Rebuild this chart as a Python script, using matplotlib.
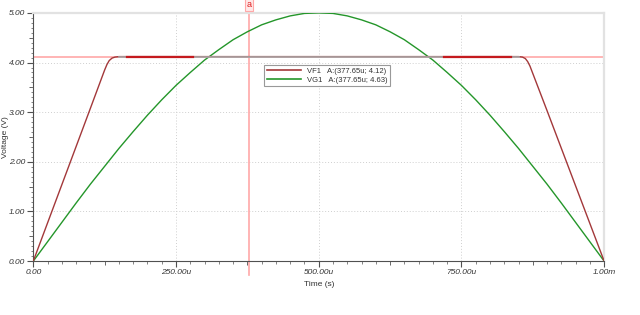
import numpy as np
import matplotlib.pyplot as plt
from matplotlib.lines import Line2D

# time in ms, voltage in V
vf1_t = [0.0, 0.0325, 0.065, 0.0975, 0.125, 0.129, 0.133, 0.138, 0.143, 0.15,
         0.85, 0.857, 0.862, 0.866, 0.87, 0.90, 0.934, 0.967, 1.0]
vf1_v = [0.0, 1.0, 2.0, 3.0, 3.85, 3.96, 4.04, 4.09, 4.11, 4.12,
         4.12, 4.11, 4.08, 4.02, 3.93, 3.03, 2.0, 1.0, 0.0]

vg1_t = [0.0, 0.025, 0.05, 0.075, 0.10, 0.125, 0.15, 0.175, 0.20, 0.225, 0.25,
         0.275, 0.30, 0.325, 0.35, 0.375, 0.40, 0.425, 0.45, 0.475, 0.50,
         0.525, 0.55, 0.575, 0.60, 0.625, 0.65, 0.675, 0.70, 0.725, 0.75,
         0.775, 0.80, 0.825, 0.85, 0.875, 0.90, 0.925, 0.95, 0.975, 1.0]
vg1_v = [0.0, 0.39, 0.78, 1.17, 1.55, 1.91, 2.27, 2.61, 2.94, 3.25, 3.54,
         3.80, 4.05, 4.26, 4.46, 4.62, 4.76, 4.86, 4.94, 4.99, 5.0,
         4.99, 4.94, 4.86, 4.76, 4.62, 4.46, 4.26, 4.05, 3.80, 3.54,
         3.25, 2.94, 2.61, 2.27, 1.91, 1.55, 1.17, 0.78, 0.39, 0.0]

# parts of the flat top drawn highlighted / grey in the scope window
flat_red = [(0.164, 0.279), (0.719, 0.836)]
flat_grey = (0.15, 0.85)

cursor_t = 0.37765
cursor_v = 4.12
legend_labels = ['VF1   A:(377.65u; 4.12)', 'VG1   A:(377.65u; 4.63)']

xticks = [0.0, 0.25, 0.5, 0.75, 1.0]
xlabels = ['0.00', '250.00u', '500.00u', '750.00u', '1.00m']
yticks = [0, 1, 2, 3, 4, 5]
ylabels = ['0.00', '1.00', '2.00', '3.00', '4.00', '5.00']

c_vf1 = '#a3383a'
c_red = '#c41a1e'
c_vg1 = '#24962a'
c_cur = '#ffa8a8'
c_grey = '#a8a8a8'

plt.rcParams['font.family'] = ['Liberation Sans', 'DejaVu Sans']

fig = plt.figure(figsize=(6.4, 3.15), dpi=100)
ax = fig.add_axes([0.052, 0.171, 0.892, 0.788])
ax.set_xlim(0, 1.0)
ax.set_ylim(0, 5.0)

ax.grid(True, linestyle=(0, (1, 2)), color='#cfcfcf', linewidth=0.7)

# cursor lines
ax.axhline(cursor_v, color=c_cur, lw=1.2, zorder=2)
ax.axvline(cursor_t, color=c_cur, lw=1.2, ymin=-0.056, ymax=1.015, clip_on=False, zorder=2)
ax.text(cursor_t, 1.035, 'a', transform=ax.get_xaxis_transform(), ha='center', va='center',
        fontsize=6.5, color='#e02020',
        bbox=dict(boxstyle='square,pad=0.2', fc='#ffe8e8', ec=c_cur, lw=0.8))

ax.plot(vg1_t, vg1_v, color=c_vg1, lw=1.0, zorder=3)
ax.plot(vf1_t, vf1_v, color=c_vf1, lw=1.0, zorder=3)
ax.plot(flat_grey, [cursor_v, cursor_v], color=c_grey, lw=1.2, zorder=4)
for a, b in flat_red:
    ax.plot([a, b], [cursor_v, cursor_v], color=c_red, lw=1.6, zorder=5)

# spines
for s in ['left', 'bottom']:
    ax.spines[s].set_color('#505050')
    ax.spines[s].set_linewidth(0.8)
for s in ['top', 'right']:
    ax.spines[s].set_color('#e2e2e2')
    ax.spines[s].set_linewidth(1.6)

ax.set_xticks(xticks)
ax.set_xticklabels(xlabels, style='italic')
ax.set_yticks(yticks)
ax.set_yticklabels(ylabels, style='italic')
ax.set_xticks(np.arange(0, 1.0001, 0.025), minor=True)
ax.set_yticks(np.arange(0, 5.0001, 0.1), minor=True)
ax.tick_params(which='major', length=4, width=0.8, color='#505050', labelsize=6, labelcolor='#333333', pad=2)
ax.tick_params(which='minor', length=1.8, width=0.6, color='#707070')

# medium ticks
sec = ax.secondary_xaxis('bottom')
sec.set_xticks([0.125, 0.375, 0.625, 0.875])
sec.set_xticklabels([])
sec.tick_params(length=3, width=0.7, color='#606060')
secy = ax.secondary_yaxis('left')
secy.set_yticks([0.5, 1.5, 2.5, 3.5, 4.5])
secy.set_yticklabels([])
secy.tick_params(length=3, width=0.7, color='#606060')
for s in [sec, secy]:
    for sp in s.spines.values():
        sp.set_visible(False)

ax.set_xlabel('Time (s)', fontsize=6, color='#333333', labelpad=3)
ax.set_ylabel('Voltage (V)', fontsize=6, color='#333333')
ax.yaxis.set_label_coords(-0.042, 0.5)

handles = [Line2D([], [], color=c_vf1, lw=1.2), Line2D([], [], color=c_vg1, lw=1.2)]
leg = ax.legend(handles, legend_labels, loc='upper left', bbox_to_anchor=(0.405, 0.79),
                fontsize=5.5, frameon=True, fancybox=False, handlelength=4.5,
                borderpad=0.3, labelspacing=0.2, handletextpad=0.8, borderaxespad=0)
leg.get_frame().set_edgecolor('#808080')
leg.get_frame().set_linewidth(0.8)
for t in leg.get_texts():
    t.set_color('#333333')

fig.savefig('out.png', dpi=100)
